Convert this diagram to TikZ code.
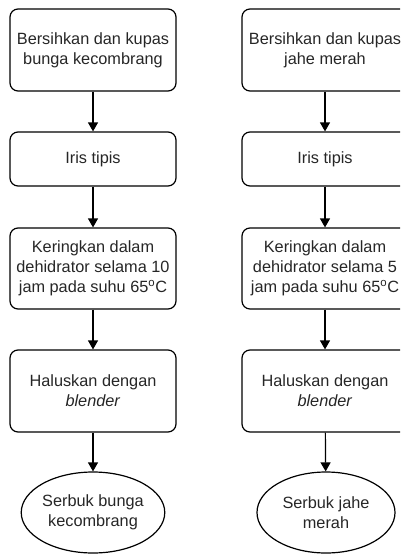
\documentclass[tikz,border=0pt]{standalone}
\usepackage{fontspec}
\setmainfont{Liberation Sans}
\usetikzlibrary{shapes.geometric,arrows.meta}
\begin{document}
\begin{tikzpicture}[x=1pt,y=-1pt,
  box/.style={draw, line width=1.2pt, rounded corners=8pt, minimum width=166pt, align=center, inner sep=0pt, font=\fontsize{16.3}{20}\selectfont, text=black!85},
  endnode/.style={draw, ellipse, line width=1.2pt, minimum width=138pt, minimum height=81pt, align=center, inner sep=0pt, font=\fontsize{16.3}{20}\selectfont, text=black!85},
  arr/.style={-{Triangle[length=9pt,width=10pt]}, line width=1.2pt}]
\useasboundingbox (0,0) rectangle (400,554);
\begin{scope}
\clip (0,0) rectangle (400,554);
% left column
\node[box, minimum height=82pt] (l1) at (93,50) {Bersihkan dan kupas\\bunga kecombrang};
\node[box, minimum height=54pt] (l2) at (93,159) {Iris tipis};
\node[box, minimum height=81pt] (l3) at (93,268.5) {Keringkan dalam\\dehidrator selama 10\\jam pada suhu 65\textsuperscript{o}C};
\node[box, minimum height=82pt] (l4) at (93,391) {Haluskan dengan\\\textit{blender}};
\node[endnode] (l5) at (93,512.5) {Serbuk bunga\\kecombrang};
\draw[arr] (l1) -- (l2);
\draw[arr] (l2) -- (l3);
\draw[arr] (l3) -- (l4);
\draw[arr] (l4) -- (l5);
% right column
\node[box, minimum height=82pt] (r1) at (325,50) {Bersihkan dan kupas\\jahe merah};
\node[box, minimum height=54pt] (r2) at (325,159) {Iris tipis};
\node[box, minimum height=81pt] (r3) at (325,268.5) {Keringkan dalam\\dehidrator selama 5\\jam pada suhu 65\textsuperscript{o}C};
\node[box, minimum height=82pt] (r4) at (325,391) {Haluskan dengan\\\textit{blender}};
\node[endnode] (r5) at (326,512.5) {Serbuk jahe\\merah};
\draw[arr] (r1) -- (r2);
\draw[arr] (r2) -- (r3);
\draw[arr] (r3) -- (r4);
\draw[arr] (r4) -- (r5);
\end{scope}
\end{tikzpicture}
\end{document}
